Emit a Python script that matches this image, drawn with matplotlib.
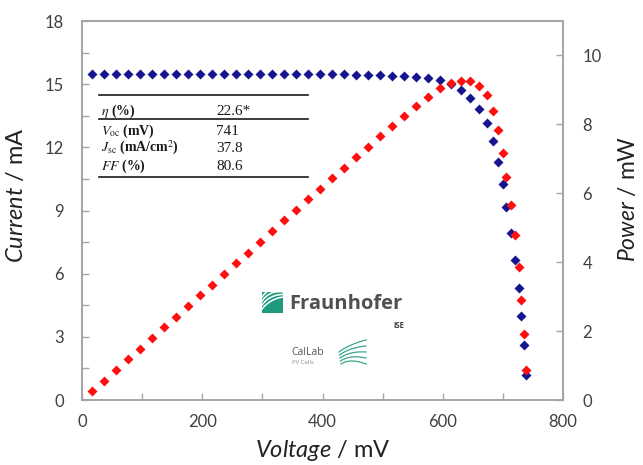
import numpy as np
import matplotlib.pyplot as plt
from matplotlib.ticker import MultipleLocator
from matplotlib.patches import Rectangle

# I-V and P-V data (mV, mA, mW)
voltage = [16, 36, 56, 76, 96, 116, 136, 156, 176, 196, 216, 236, 256, 276,
           296, 316, 336, 356, 376, 396, 416, 436, 456, 476, 496, 516, 536,
           556, 576, 596, 613, 630, 646, 660, 673, 683, 692, 700, 706, 714,
           720, 726, 730, 735, 739]
current = [15.50, 15.50, 15.50, 15.50, 15.50, 15.50, 15.50, 15.50, 15.50,
           15.50, 15.50, 15.50, 15.50, 15.50, 15.50, 15.49, 15.49, 15.48,
           15.48, 15.47, 15.47, 15.46, 15.45, 15.44, 15.42, 15.40, 15.38,
           15.35, 15.28, 15.19, 15.02, 14.72, 14.33, 13.80, 13.14, 12.30,
           11.32, 10.26, 9.18, 7.94, 6.65, 5.32, 3.99, 2.61, 1.19]
power = [0.25, 0.56, 0.87, 1.18, 1.49, 1.80, 2.11, 2.42, 2.73, 3.04, 3.35,
         3.66, 3.97, 4.28, 4.59, 4.90, 5.21, 5.51, 5.82, 6.13, 6.44, 6.74,
         7.05, 7.35, 7.65, 7.95, 8.24, 8.54, 8.80, 9.05, 9.21, 9.27, 9.26,
         9.11, 8.84, 8.40, 7.83, 7.18, 6.48, 5.67, 4.79, 3.86, 2.91, 1.92,
         0.88]

table_labels = [r"$\eta$ (%)", r"$V_{\mathrm{oc}}$ (mV)",
                r"$J_{\mathrm{sc}}$ (mA/cm$^2$)", r"$FF$ (%)"]
table_values = ["22.6*", "741", "37.8", "80.6"]

plt.rcParams["font.family"] = ["Lato", "DejaVu Sans"]
plt.rcParams["mathtext.fontset"] = "custom"
plt.rcParams["mathtext.rm"] = "Lato"
plt.rcParams["mathtext.it"] = "Lato:italic"

W, H = 643, 465
fig = plt.figure(figsize=(W / 100, H / 100), dpi=100)
ax = fig.add_axes([82 / W, 65 / H, 481 / W, 379 / H])
ax2 = ax.twinx()

ax.plot(voltage, current, "D", color="#15158f", ms=5.5, mec="none")
ax2.plot(voltage, power, "D", color="#ff1010", ms=5.5, mec="none")

ax.set_xlim(0, 800)
ax.set_ylim(0, 18)
ax2.set_ylim(0, 11)
ax.xaxis.set_major_locator(MultipleLocator(200))
ax.xaxis.set_minor_locator(MultipleLocator(100))
ax.yaxis.set_major_locator(MultipleLocator(3))
ax.yaxis.set_minor_locator(MultipleLocator(1.5))
ax2.set_yticks(range(0, 11, 2))

grey = "#a6a6a6"
for a in (ax, ax2):
    for s in a.spines.values():
        s.set_color(grey)
        s.set_linewidth(1.3)
    a.tick_params(which="both", direction="in", length=5, width=1,
                  color=grey, labelcolor="#404040", labelsize=12)
ax.tick_params(axis="x", pad=10)
ax.tick_params(axis="y", pad=13)
ax2.tick_params(axis="y", pad=14)

ax.set_xlabel(r"$\mathit{Voltage}$ / mV", fontsize=17, color="#222222")
ax.set_ylabel(r"$\mathit{Current}$ / mA", fontsize=17, color="#222222")
ax2.set_ylabel(r"$\mathit{Power}$ / mW", fontsize=16.5, color="#222222")
ax.xaxis.set_label_coords(0.5, -0.1)
ax.yaxis.set_label_coords(-0.115, 0.54)
ax2.yaxis.set_label_coords(1.113, 0.53)

# overlay in pixel units for the inset table and logos
ov = fig.add_axes([0, 0, 1, 1])
ov.set_xlim(0, W)
ov.set_ylim(H, 0)
ov.axis("off")

for yl in (95, 119, 177):
    ov.plot([99, 308], [yl, yl], color="#1a1a1a", lw=1.2)
row_y = [111, 131, 148, 166]
for lab, val, yy in zip(table_labels, table_values, row_y):
    ov.text(101, yy, lab, family="Liberation Serif", math_fontfamily="stix",
            fontsize=10, fontweight="bold", va="center", color="#1a1a1a")
    ov.text(216, yy, val, family="Liberation Serif", fontsize=11,
            va="center", color="#1a1a1a")

# Fraunhofer ISE logo
sq = Rectangle((262, 292), 21, 21, facecolor="#1f9a7d", edgecolor="none")
ov.add_patch(sq)
t = np.linspace(0, 1, 30)
for k in range(4):
    x0, y0 = 262, 309 - k * 4
    x1, y1 = 283, 297 - k * 2.5
    cx, cy = 270, 299 - k * 4.5
    xs = (1 - t) ** 2 * x0 + 2 * (1 - t) * t * cx + t ** 2 * x1
    ys = (1 - t) ** 2 * y0 + 2 * (1 - t) * t * cy + t ** 2 * y1
    ln, = ov.plot(xs, ys, color="white", lw=1.1)
    ln.set_clip_path(sq)
ov.text(289, 304, "Fraunhofer", family="Open Sans", fontweight="bold",
        fontsize=14.5, color="#505050", va="center", ha="left")
ov.text(404, 325, "ISE", family="Open Sans", fontweight="bold",
        fontsize=5.5, color="#404040", va="center", ha="right")

# CalLab logo
ov.text(291, 352, "CalLab", family="Open Sans", fontsize=7.5,
        color="#555555", va="center", ha="left")
ov.text(292, 362, "PV Cells", family="Open Sans", fontsize=4.3,
        color="#8a8a8a", va="center", ha="left")
for k in range(5):
    x0, y0 = 339 + k * 0.5, 352 + k * 3
    x1, y1 = 366, 340 + k * 6
    cx, cy = 350, 344 + k * 3.5
    xs = (1 - t) ** 2 * x0 + 2 * (1 - t) * t * cx + t ** 2 * x1
    ys = (1 - t) ** 2 * y0 + 2 * (1 - t) * t * cy + t ** 2 * y1
    ov.plot(xs, ys, color="#3aa58c", lw=0.9)

fig.savefig("out.png", dpi=100)
